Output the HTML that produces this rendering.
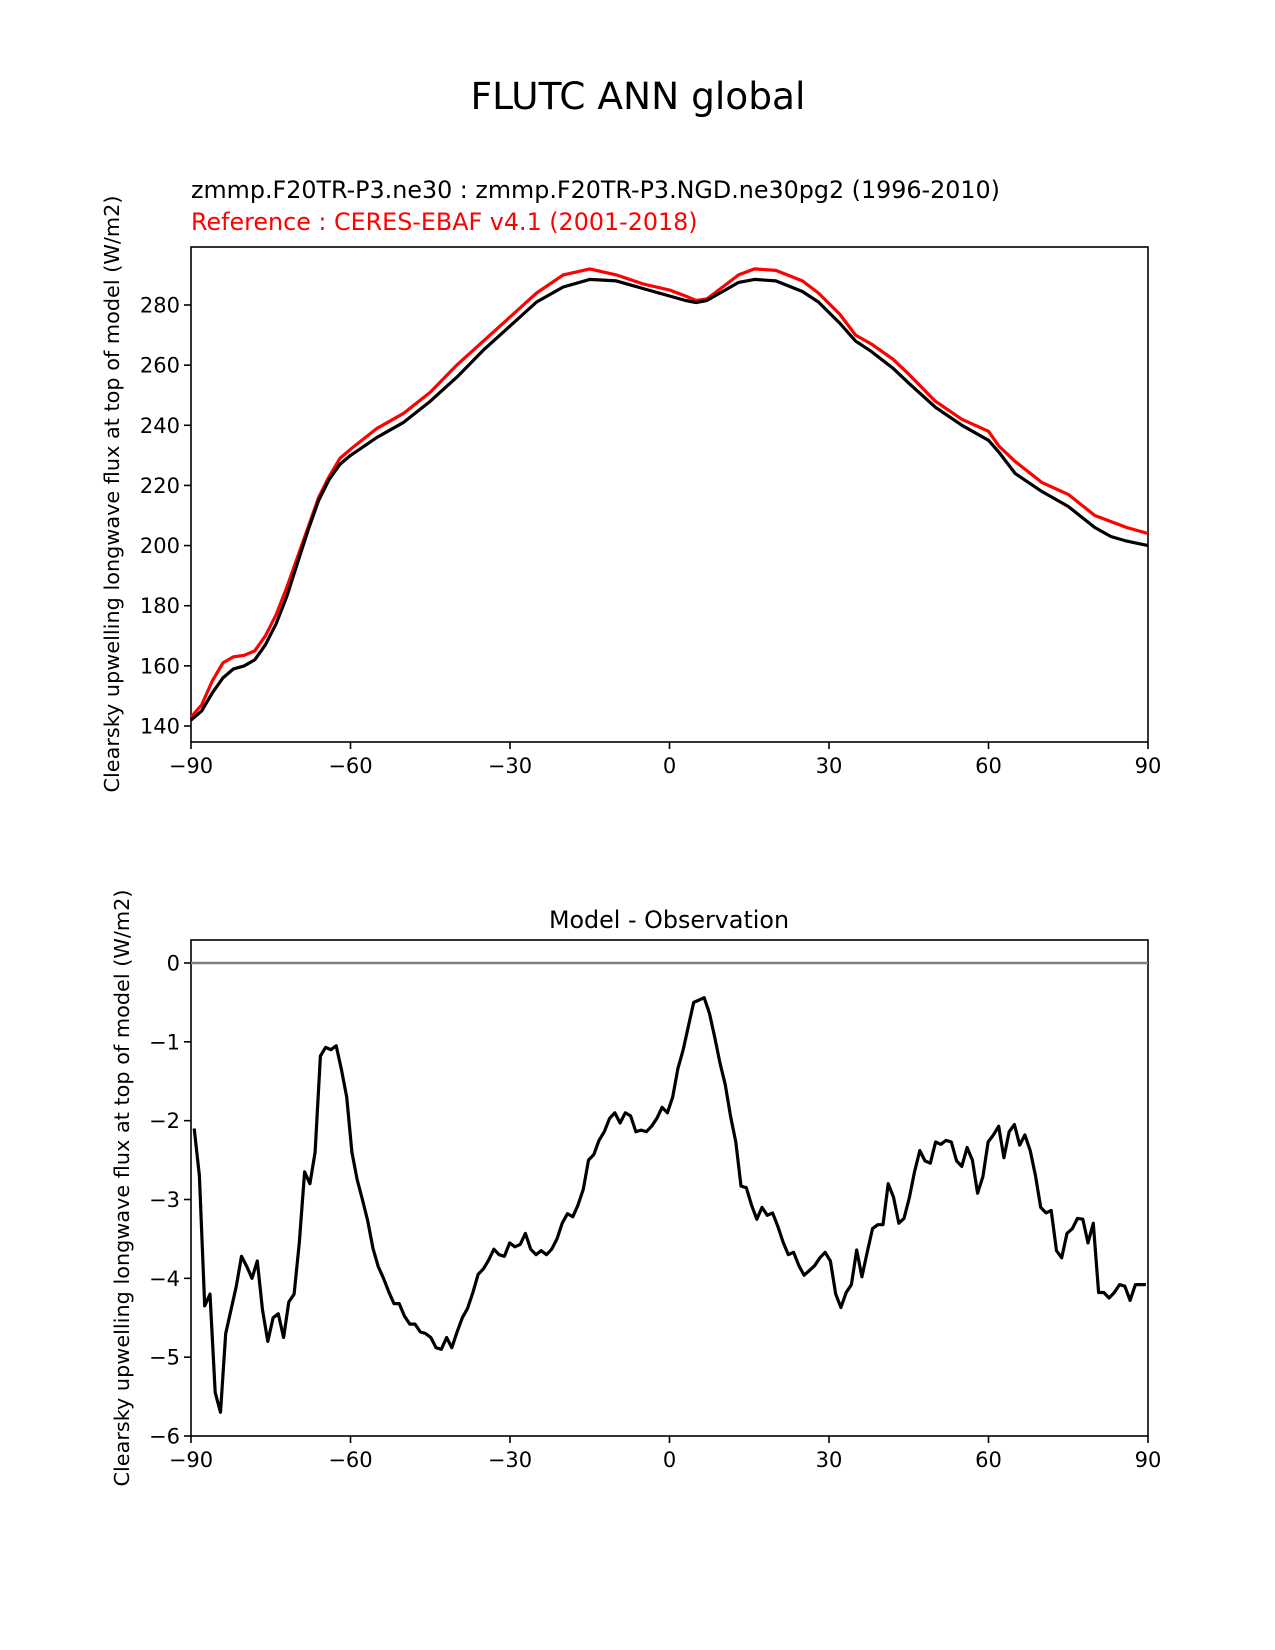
<!DOCTYPE html>
<html><head><meta charset="utf-8"><style>
body{margin:0;background:#fff}
svg{display:block;font-family:"DejaVu Sans","Liberation Sans",sans-serif}
</style></head><body>
<svg id="fig" width="1275" height="1650" viewBox="0 0 1275 1650">
<text x="638" y="109" font-size="37.5" text-anchor="middle">FLUTC ANN global</text>
<text x="191" y="198" font-size="23.8">zmmp.F20TR-P3.ne30 : zmmp.F20TR-P3.NGD.ne30pg2 (1996-2010)</text>
<text x="191" y="230" font-size="23.8" fill="red">Reference : CERES-EBAF v4.1 (2001-2018)</text>
<text x="669" y="928" font-size="23.8" text-anchor="middle">Model - Observation</text>
<text transform="translate(119,494) rotate(-90)" font-size="20.8" text-anchor="middle">Clearsky upwelling longwave flux at top of model (W/m2)</text>
<text transform="translate(129,1188) rotate(-90)" font-size="20.8" text-anchor="middle">Clearsky upwelling longwave flux at top of model (W/m2)</text>
<g id="top"></g>
<g id="bot"></g>
</svg>
<script>
const xTicks=[-90,-60,-30,0,30,60,90];
const xTickLabels=["\u221290","\u221260","\u221230","0","30","60","90"];
const topYTicks=[140,160,180,200,220,240,260,280];
const botYTicks=[0,-1,-2,-3,-4,-5,-6];
const botYTickLabels=["0","\u22121","\u22122","\u22123","\u22124","\u22125","\u22126"];
const topLats=[-90,-88,-86,-84,-82,-80,-78,-76,-74,-72,-70,-68,-66,-64,-62,-60,-55,-50,-45,-40,-35,-30,-25,-20,-15,-10,-5,0,3,5,7,10,13,16,20,25,28,32,35,38,42,45,50,55,60,62,65,70,75,80,83,86,90];
const modelVals=[142,145,151,156,159,160,162,167,174,183,194,205,215,222,227,230,236,241,248,256,265,273,281,286,288.5,288,285.5,283,281.5,280.8,281.5,284.5,287.5,288.5,288,284.5,281,274,268,264.5,259,254,246,240,235,231,224,218,213,206,203,201.5,200];
const obsVals=[143,147,155,161,163,163.5,165,170,177,186,196,206,216,223,229,232,239,244,251,260,268,276,284,290,292,290,287,285,283,281.5,282,286,290,292,291.5,288,284,277,270,267,262,257,248,242,238,233,228,221,217,210,208,206,204];
const diffVals=[-2.1,-2.7,-4.35,-4.2,-5.45,-5.7,-4.7,-4.4,-4.1,-3.72,-3.85,-4.0,-3.78,-4.4,-4.8,-4.5,-4.45,-4.75,-4.3,-4.2,-3.55,-2.65,-2.8,-2.4,-1.18,-1.07,-1.1,-1.05,-1.35,-1.7,-2.4,-2.75,-3.0,-3.27,-3.62,-3.85,-4.0,-4.17,-4.32,-4.32,-4.48,-4.58,-4.58,-4.68,-4.7,-4.75,-4.88,-4.9,-4.75,-4.88,-4.68,-4.5,-4.38,-4.18,-3.95,-3.88,-3.77,-3.63,-3.7,-3.72,-3.55,-3.6,-3.57,-3.43,-3.63,-3.7,-3.65,-3.7,-3.63,-3.5,-3.3,-3.18,-3.22,-3.07,-2.87,-2.5,-2.43,-2.25,-2.14,-1.97,-1.9,-2.03,-1.9,-1.94,-2.14,-2.12,-2.14,-2.07,-1.97,-1.83,-1.9,-1.7,-1.34,-1.1,-0.8,-0.5,-0.47,-0.44,-0.64,-0.94,-1.27,-1.54,-1.94,-2.27,-2.83,-2.85,-3.07,-3.25,-3.1,-3.2,-3.17,-3.34,-3.54,-3.7,-3.67,-3.84,-3.96,-3.9,-3.84,-3.74,-3.67,-3.78,-4.2,-4.37,-4.18,-4.08,-3.64,-3.98,-3.67,-3.37,-3.32,-3.32,-2.8,-2.97,-3.3,-3.24,-2.98,-2.65,-2.38,-2.51,-2.54,-2.27,-2.3,-2.25,-2.27,-2.51,-2.58,-2.34,-2.5,-2.92,-2.71,-2.27,-2.18,-2.07,-2.47,-2.14,-2.05,-2.31,-2.18,-2.38,-2.7,-3.1,-3.17,-3.14,-3.65,-3.74,-3.43,-3.37,-3.24,-3.25,-3.55,-3.3,-4.18,-4.18,-4.25,-4.18,-4.08,-4.1,-4.28,-4.08,-4.08,-4.08];
const diffLats=diffVals.map((v,i)=>-89.4+i*179/(diffVals.length-1));

const NS="http://www.w3.org/2000/svg";
function mk(tag,attrs,parent){const e=document.createElementNS(NS,tag);for(const k in attrs)e.setAttribute(k,attrs[k]);parent.appendChild(e);return e;}
const L=191,R=1148;
const xs=v=>L+(v+90)/180*(R-L);
function panel(g,top,bottom,y,yTicks,yLabels,name){
  const frame=mk('rect',{x:L,y:top,width:R-L,height:bottom-top,fill:'none',stroke:'#000','stroke-width':1.6},g);
  
  
  xTicks.forEach((t,i)=>{
    const tk=mk('line',{x1:xs(t),x2:xs(t),y1:bottom,y2:bottom+7,stroke:'#000','stroke-width':1.6},g);
    
    
    const tx=mk('text',{x:xs(t),y:bottom+31,'font-size':21,'text-anchor':'middle'},g);tx.textContent=xTickLabels[i];
    
    
  });
  yTicks.forEach((t,i)=>{
    const tk=mk('line',{x1:L-7,x2:L,y1:y(t),y2:y(t),stroke:'#000','stroke-width':1.6},g);
    
    
    const tx=mk('text',{x:L-11,y:y(t)+7.5,'font-size':21,'text-anchor':'end'},g);tx.textContent=yLabels[i];
    
    
  });
}
function line(g,lats,vals,y,color,w,name){
  const d=lats.map((la,i)=>(i?'L':'M')+xs(la).toFixed(1)+' '+y(vals[i]).toFixed(1)).join(' ');
  const p=mk('path',{d:d,fill:'none',stroke:color,'stroke-width':w,'stroke-linejoin':'round'},g);
  
  
}
const gt=document.getElementById('top');
const yt=v=>305+(280-v)*(421/140);
panel(gt,247,742,yt,topYTicks,topYTicks.map(String),'top');
line(gt,topLats,obsVals,yt,'red',3.2,'observation-line');
line(gt,topLats,modelVals,yt,'#000',3.2,'model-line');
const gb=document.getElementById('bot');
const yb=v=>963-v*(473/6);
panel(gb,940,1436,yb,botYTicks,botYTickLabels,'bottom');
const z=mk('line',{x1:L,x2:R,y1:yb(0),y2:yb(0),stroke:'#808080','stroke-width':2.6},gb);


line(gb,diffLats,diffVals,yb,'#000',3.2,'difference-line');
</script>
</body></html>
